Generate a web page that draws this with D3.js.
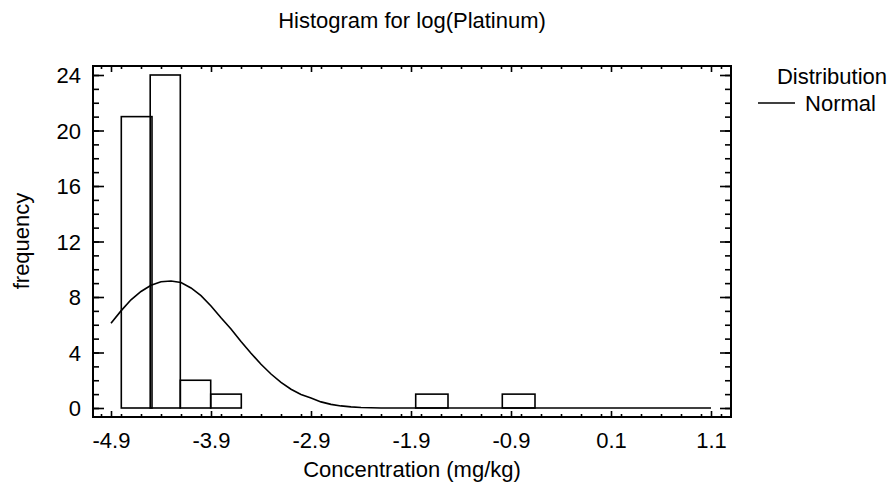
<!DOCTYPE html>
<html>
<head>
<meta charset="utf-8">
<script src="https://cdn.jsdelivr.net/npm/d3@7"></script>
<style>
  html, body { margin: 0; padding: 0; background: #fff; }
  svg { display: block; font-family: "Liberation Sans", Arial, sans-serif; }
</style>
</head>
<body>
<svg id="chart" width="891" height="489"></svg>
<script>
// ---- data ----
const binStart = [-4.797, -4.508, -4.207, -3.903, -1.853, -0.987];
const binEnd   = [-4.490, -4.207, -3.903, -3.597, -1.530, -0.660];
const binCount = [21, 24, 2, 1, 1, 1];

const curveX = [-4.9, -4.8, -4.7, -4.6, -4.5, -4.4, -4.3, -4.2, -4.1, -4.0, -3.9, -3.8, -3.7, -3.6, -3.5, -3.4, -3.3, -3.2, -3.1, -3.0, -2.9, -2.8, -2.7, -2.6, -2.5, -2.4, -2.3, -2.2, 1.1];
const curveY = [6.1, 7.0, 7.8, 8.4, 8.85, 9.1, 9.15, 9.05, 8.65, 8.1, 7.35, 6.5, 5.7, 4.8, 3.95, 3.15, 2.45, 1.85, 1.35, 0.98, 0.72, 0.44, 0.26, 0.15, 0.08, 0.04, 0.02, 0, 0];

const xTicks = [-4.9, -3.9, -2.9, -1.9, -0.9, 0.1, 1.1];
const yTicks = [0, 4, 8, 12, 16, 20, 24];

const title = "Histogram for log(Platinum)";
const xTitle = "Concentration (mg/kg)";
const yTitle = "frequency";
const legendTitle = "Distribution";
const legendItem = "Normal";

// ---- layout ----
const svg = d3.select("#chart");
const frame = {left: 93, right: 731, top: 66, bottom: 417};
const x = d3.scaleLinear().domain([-4.9, 1.1]).range([111, 711]);
const y = d3.scaleLinear().domain([0, 24]).range([408, 75]);

const fontSize = 22;

// title
svg.append("text").attr("x", 412).attr("y", 28).attr("text-anchor", "middle")
  .attr("font-size", fontSize).text(title);

// bars
const bins = binCount.map((c, i) => ({x0: binStart[i], x1: binEnd[i], c}));
svg.append("g").selectAll("rect").data(bins).join("rect")
  .attr("x", d => x(d.x0)).attr("y", d => y(d.c))
  .attr("width", d => x(d.x1) - x(d.x0)).attr("height", d => y(0) - y(d.c))
  .attr("fill", "none").attr("stroke", "#000").attr("stroke-width", 1.6);

// curve
const line = d3.line().x((d, i) => x(curveX[i])).y(d => y(d));
svg.append("path").datum(curveY).attr("d", line)
  .attr("fill", "none").attr("stroke", "#000").attr("stroke-width", 1.6);

// frame
svg.append("rect").attr("x", frame.left).attr("y", frame.top)
  .attr("width", frame.right - frame.left).attr("height", frame.bottom - frame.top)
  .attr("fill", "none").attr("stroke", "#000").attr("stroke-width", 2);

// ticks via axes
const xMinor = d3.range(-5.0, 1.31, 0.2).map(v => +v.toFixed(2)).filter(v => x(v) > frame.left + 2 && x(v) < frame.right - 2);
const yMinor = d3.range(0, 25, 1);

function addAxis(axisGen, tx, ty) {
  const g = svg.append("g").attr("transform", `translate(${tx},${ty})`).call(axisGen);
  g.select(".domain").remove();
  g.selectAll("line").attr("stroke", "#000").attr("stroke-width", 1.6);
  return g;
}
// bottom (inward = up)
addAxis(d3.axisTop(x).tickValues(xMinor).tickSize(3).tickFormat(""), 0, frame.bottom);
addAxis(d3.axisTop(x).tickValues(xTicks).tickSize(6).tickFormat(""), 0, frame.bottom);
// top (inward = down)
addAxis(d3.axisBottom(x).tickValues(xMinor).tickSize(3).tickFormat(""), 0, frame.top);
addAxis(d3.axisBottom(x).tickValues(xTicks).tickSize(6).tickFormat(""), 0, frame.top);
// left (inward = right)
addAxis(d3.axisRight(y).tickValues(yMinor).tickSize(6).tickFormat(""), frame.left, 0);
addAxis(d3.axisRight(y).tickValues(yTicks).tickSize(11).tickFormat(""), frame.left, 0);
// right (inward = left)
addAxis(d3.axisLeft(y).tickValues(yMinor).tickSize(6).tickFormat(""), frame.right, 0);
addAxis(d3.axisLeft(y).tickValues(yTicks).tickSize(11).tickFormat(""), frame.right, 0);

// tick labels
const xl = d3.axisBottom(x).tickValues(xTicks).tickSize(0).tickPadding(0).tickFormat(d => d3.format(".1f")(d).replace("\u2212", "-"));
const gxl = svg.append("g").attr("transform", `translate(0,448)`).call(xl);
gxl.select(".domain").remove();
gxl.selectAll("text").attr("font-size", fontSize).attr("font-family", "Liberation Sans, Arial, sans-serif").attr("fill", "#000").attr("dy", "0");

const yl = d3.axisLeft(y).tickValues(yTicks).tickSize(0).tickPadding(0).tickFormat(d3.format("d"));
const gyl = svg.append("g").attr("transform", `translate(81,0)`).call(yl);
gyl.select(".domain").remove();
gyl.selectAll("text").attr("font-size", fontSize).attr("font-family", "Liberation Sans, Arial, sans-serif").attr("fill", "#000").attr("dy", "0.36em");

// axis titles
svg.append("text").attr("x", 412).attr("y", 477).attr("text-anchor", "middle")
  .attr("font-size", fontSize).text(xTitle);
svg.append("text").attr("transform", "translate(29,241) rotate(-90)").attr("text-anchor", "middle")
  .attr("font-size", fontSize).text(yTitle);

// legend
svg.append("text").attr("x", 887).attr("y", 84).attr("text-anchor", "end").attr("font-size", fontSize).text(legendTitle);
svg.append("line").attr("x1", 758).attr("x2", 795).attr("y1", 103).attr("y2", 103)
  .attr("stroke", "#000").attr("stroke-width", 1.6);
svg.append("text").attr("x", 876).attr("y", 111).attr("text-anchor", "end").attr("font-size", fontSize).text(legendItem);
</script>
</body>
</html>
